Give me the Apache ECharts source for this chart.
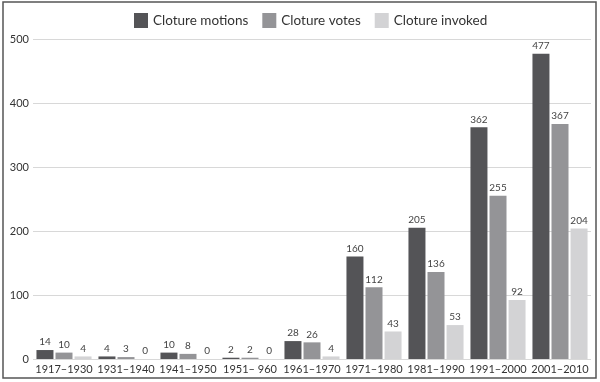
<!DOCTYPE html>
<html><head><meta charset="utf-8">
<script src="https://cdn.jsdelivr.net/npm/echarts@6/dist/echarts.min.js"></script>
<style>html,body{margin:0;padding:0;background:#fff}#c{width:600px;height:382px}</style>
</head><body><div id="c"></div>
<script>
const categories = ['1917–1930','1931–1940','1941–1950','1951– 960','1961–1970','1971–1980','1981–1990','1991–2000','2001–2010'];
const clotureMotions = [14,4,10,2,28,160,205,362,477];
const clotureVotes = [10,3,8,2,26,112,136,255,367];
const clotureInvoked = [4,0,0,0,4,43,53,92,204];
const yTicks = {min:0,max:500,interval:100};
const FONT = 'Lato';
const chart = echarts.init(document.getElementById('c'));
function s(name, data, color){
  return {name, type:'bar', data, barWidth:17, barGap:'12%',
    itemStyle:{color},
    label:{show:true, position:'top', distance:3, fontSize:10, color:'#444', fontFamily:FONT}};
}
chart.setOption({
  animation:false,
  textStyle:{fontFamily:FONT},
  graphic:[{type:'rect', shape:{x:3,y:2,width:593,height:376}, style:{fill:null, stroke:'#555', lineWidth:1.5}, silent:true}],
  legend:{left:129, top:8, itemWidth:14, itemHeight:15, itemGap:14,
    textStyle:{fontSize:13.5, color:'#333', fontFamily:FONT},
    icon:'rect'},
  grid:{left:33, right:9, top:39, bottom:23},
  xAxis:{type:'category', data:categories,
    axisLine:{show:false}, axisTick:{show:false},
    axisLabel:{fontSize:11, color:'#333', margin:5, fontFamily:FONT, interval:0}},
  yAxis:{type:'value', min:yTicks.min, max:yTicks.max, interval:yTicks.interval,
    axisLine:{show:false}, axisTick:{show:false},
    axisLabel:{fontSize:11, color:'#333', margin:4, fontFamily:FONT},
    splitLine:{lineStyle:{color:'#d8d8d8'}}},
  series:[s('Cloture motions', clotureMotions, '#545457'), s('Cloture votes', clotureVotes, '#949497'), s('Cloture invoked', clotureInvoked, '#d3d3d5')]
});
</script></body></html>
